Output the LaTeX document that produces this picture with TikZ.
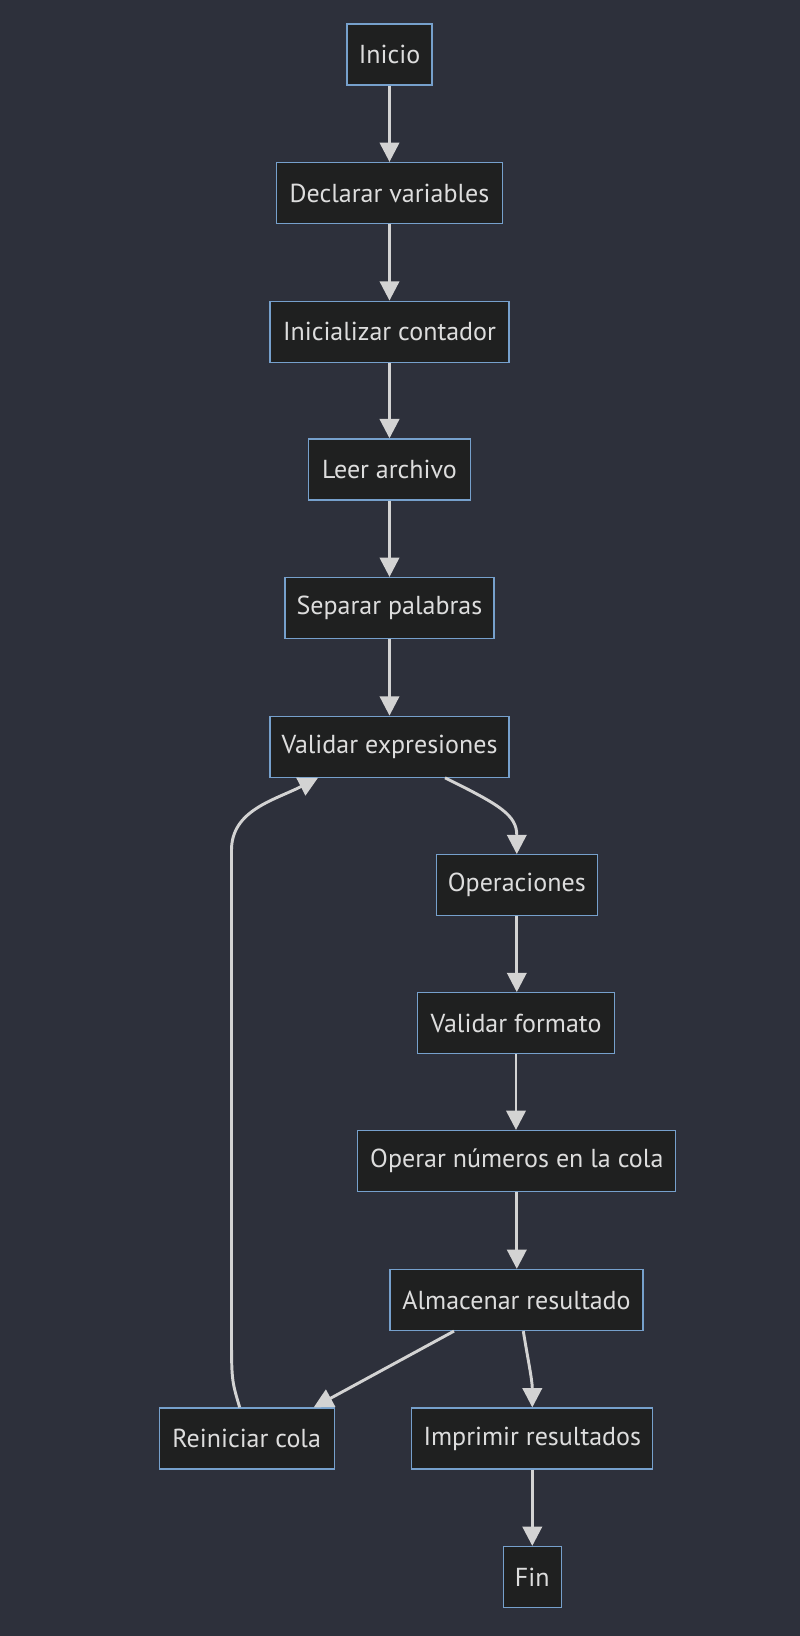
\documentclass[tikz,border=0pt]{standalone}
\usepackage{fontspec}
\setmainfont{PT Sans}
\usetikzlibrary{arrows.meta,calc}
\definecolor{bgc}{RGB}{45,48,59}
\definecolor{nfill}{RGB}{31,32,32}
\definecolor{nborder}{RGB}{118,160,204}
\definecolor{ntext}{RGB}{221,221,221}
\definecolor{lcol}{RGB}{211,211,211}
\begin{document}
\begin{tikzpicture}[x=0.75pt,y=-0.75pt,
  box/.style={draw=nborder,line width=0.9pt,fill=nfill,text=ntext,minimum height=45.75pt,inner sep=0pt,font=\fontsize{19.5}{23}\selectfont},
  arr/.style={draw=lcol,line width=2.2pt,-{Triangle[length=14.5pt,width=14.5pt]}}]
\fill[bgc] (0,0) rectangle (800,1636);
\useasboundingbox (0,0) rectangle (800,1636);
\node[box,minimum width=63.75pt] (ini) at (389.5,54.5) {Inicio};
\node[box,minimum width=169.5pt] (dv) at (389.5,193) {Declarar variables};
\node[box,minimum width=179.25pt] (ic) at (389.5,331.7) {Inicializar contador};
\node[box,minimum width=121.5pt] (la) at (389.5,469.4) {Leer archivo};
\node[box,minimum width=156.75pt] (sp) at (389.5,608) {Separar palabras};
\node[box,minimum width=179.25pt] (ve) at (389.5,746.7) {Validar expresiones};
\node[box,minimum width=120.75pt] (op) at (516.8,885.2) {Operaciones};
\node[box,minimum width=147.75pt] (vf) at (516,1023.2) {Validar formato};
\node[box,minimum width=238.5pt] (on) at (516.8,1161) {Operar números en la cola};
\node[box,minimum width=189.75pt] (alm) at (516.5,1300) {Almacenar resultado};
\node[box,minimum width=131.25pt] (rc) at (246.7,1438.5) {Reiniciar cola};
\node[box,minimum width=180.75pt] (ir) at (532.3,1438.5) {Imprimir resultados};
\node[box,minimum width=43.5pt] (fin) at (532.3,1577) {Fin};
\draw[arr] (ini) -- (dv);
\draw[arr] (dv) -- (ic);
\draw[arr] (ic) -- (la);
\draw[arr] (la) -- (sp);
\draw[arr] (sp) -- (ve);
\draw[arr] ($(ve.south)+(55.5,0)$) .. controls (500,805) and (516.8,815) .. (op.north);
\draw[arr] (op.south) -- (op.south|-vf.north);
\draw[arr] (vf.south) -- (vf.south|-on.north);
\draw[arr] (on.south) -- (on.south|-alm.north);
\draw[arr] ($(alm.south)+(-62.5,0)$) -- ($(rc.north)+(67,0)$);
\draw[arr] ($(alm.south)+(6.8,0)$) .. controls (528,1360) and (532.3,1380) .. (ir.north);
\draw[arr] ($(rc.north)+(-7,0)$) .. controls (231.5,1380) .. (231.5,1330) -- (231.5,850) .. controls (231.5,810) and (275,800) .. ($(ve.south)+(-71.5,0)$);
\draw[arr] (ir) -- (fin);
\end{tikzpicture}
\end{document}
